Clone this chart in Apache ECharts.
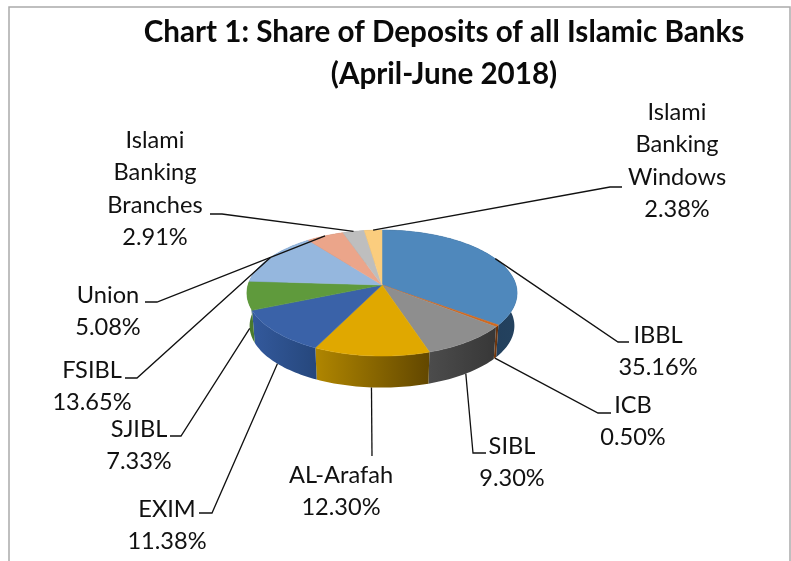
<!DOCTYPE html>
<html>
<head>
<meta charset="utf-8">
<style>html,body{margin:0;padding:0;background:#fff}#c{width:791px;height:561px}</style>
<script src="https://cdn.jsdelivr.net/npm/echarts@6/dist/echarts.min.js"></script>
</head>
<body>
<div id="c"></div>
<script>
// Data
const titleLines = ['Chart 1: Share of Deposits of all Islamic Banks', '(April-June 2018)'];
const categories = ['IBBL','ICB','SIBL','AL-Arafah','EXIM','SJIBL','FSIBL','Union','Islami Banking Branches','Islami Banking Windows'];
const shares = [35.16,0.50,9.30,12.30,11.38,7.33,13.65,5.08,2.91,2.38];

// Styles
const topColors = ['#4F88BC','#D2691E','#8E8E8E','#E0A800','#3A62A8','#5F9A3C','#95B7DE','#EBA58A','#BEBEBE','#FBCD7E'];
const wallFrom  = ['#1B3550','#7A3D10','#4C4C4C','#B08600','#33599C','#4A7A2E','#5F7FA8','#A0705C','#808080','#A88A50'];
const wallTo    = ['#24425F','#5E2E0C','#373737','#624700','#26477C','#4A7A2E','#5F7FA8','#A0705C','#808080','#A88A50'];

// Layout: label centres and leader-line elbows
const labelCentre = [[658,319],[633,389],[512,430],[341,459],[167,493],[139,413],[92,354],[108,279],[155,124],[677,96]];
const elbow = [[618,342,629],[598,413,611],[473,453,486],[372,456,372],[212,513,199],[181,436,170],[137,378,125],[157,302,145],[222,214,210],[610,187,622]];

// Perspective projection of the pie disc
const cx = 382, cy = 285, B = 134, A = 62, k = 0.127, depth = 33, shrink = 0.98;
const total = shares.reduce((a, b) => a + b, 0);
function proj(deg, bottom) {
  const a = deg * Math.PI / 180, u = Math.sin(a), v = -Math.cos(a), s = 1 / (1 - k * v);
  const f = bottom ? shrink : 1, d = bottom ? depth : 0;
  return [cx + B * u * s * f, cy + A * v * s * f + d];
}
function arc(a0, a1, bottom) {
  const n = Math.max(2, Math.ceil((a1 - a0) / 1.5)), pts = [];
  for (let i = 0; i <= n; i++) pts.push(proj(a0 + (a1 - a0) * i / n, bottom));
  return pts;
}
function startAngle(i) {
  let c = 0;
  for (let j = 0; j < i; j++) c += shares[j];
  return c / total * 360;
}

function renderItem(params, api) {
  const i = params.dataIndex, val = api.value(0);
  const a0 = startAngle(i), a1 = a0 + val / total * 360, mid = (a0 + a1) / 2;
  const topArc = arc(a0, a1, false), botArc = arc(a0, a1, true);
  const isFront = -Math.cos(mid * Math.PI / 180) > 0;
  const anchor = proj(mid, isFront);
  const e = elbow[i], c = labelCentre[i];
  return {
    type: 'group',
    children: [
      { type: 'polygon', z2: 1, shape: { points: topArc.concat(botArc.slice().reverse()) },
        style: { fill: { type: 'linear', x: 0, y: 0, x2: 1, y2: 0,
          colorStops: [{ offset: 0, color: wallFrom[i] }, { offset: 1, color: wallTo[i] }] } } },
      { type: 'polygon', z2: 2, shape: { points: [[cx, cy]].concat(topArc) },
        style: { fill: topColors[i], stroke: topColors[i], lineWidth: 0.5 } },
      { type: 'polyline', z2: 3, shape: { points: [anchor, [e[0], e[1]], [e[2], e[1]]] },
        style: { fill: null, stroke: '#111', lineWidth: 1.3 } },
      { type: 'text', z2: 4, style: {
          x: c[0], y: c[1],
          text: categories[i].replace(/ /g, '\n') + '\n' + val.toFixed(2) + '%',
          align: 'center', verticalAlign: 'top', fill: '#111',
          font: '23.6px Lato, sans-serif', lineHeight: 32.5 } }
    ]
  };
}

const chart = echarts.init(document.getElementById('c'), null, { renderer: 'canvas' });
chart.setOption({
  animation: false,
  backgroundColor: '#fff',
  title: {
    text: titleLines.join('\n'), left: 439, top: 6, textAlign: 'center',
    textStyle: { fontFamily: 'Lato, sans-serif', fontSize: 29.6, fontWeight: 'bold', color: '#0a0a0a', lineHeight: 42 }
  },
  graphic: [{ type: 'rect', silent: true, z: -1,
    shape: { x: 9, y: 7, width: 781, height: 700 },
    style: { fill: null, stroke: '#ababab', lineWidth: 1.5 } }],
  series: [{
    type: 'custom', coordinateSystem: 'none', silent: true,
    renderItem,
    data: shares.map((v, i) => ({ name: categories[i], value: [v] }))
  }]
});
</script>
</body>
</html>
